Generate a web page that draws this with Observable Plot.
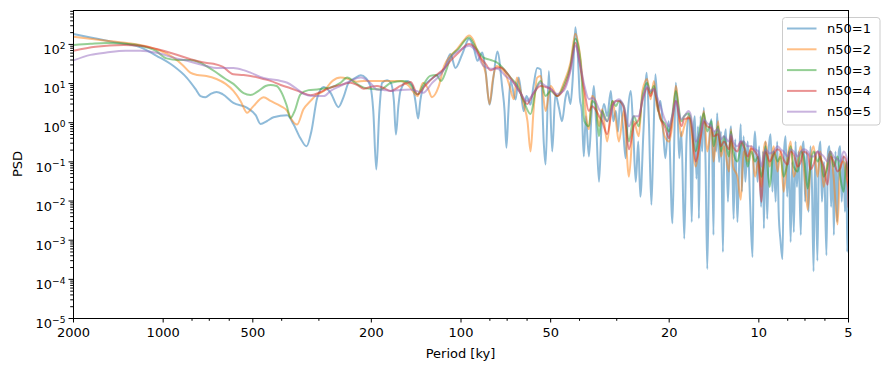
<!DOCTYPE html>
<html><head><meta charset="utf-8">
<script src="https://cdn.jsdelivr.net/npm/d3@7"></script>
<script src="https://cdn.jsdelivr.net/npm/@observablehq/plot@0.6"></script>
<style>html,body{margin:0;padding:0;background:#fff;overflow:hidden;} #chart svg{display:block;max-width:none;}</style>
</head><body><div id="chart"></div>
<script>
const labels = ["n50=1","n50=2","n50=3","n50=4","n50=5"];
const colors = ["#1f77b4","#ff7f0e","#2ca02c","#d62728","#9467bd"];
const majorX = [2000,1000,500,200,100,50,20,10,5];
const minorX = [800,700,600,400,300,80,70,60,40,30,8,7,6];
const majorY = [1e-5,1e-4,1e-3,1e-2,1e-1,1,10,100];

// [period ky, PSD]
const n50_1 = [[2000,185],[1753,151],[1502,119],[1191,84],[1052,51],[923,28],[834,14.2],[779,7.3],[749,4.8],[721,4.5],[694,5.4],[662,6.1],[632,5.4],[581,3.2],[522,2.4],[489,1.56],[471,0.93],[449,1.09],[426,1.38],[383,1.56],[365,0.91],[346,0.40],[330,0.25],[318,0.60],[304,4.3],[289,8.2],[274,5.8],[258,2.5],[248,4.5],[238.5,10.5],[226.5,13.9],[217,16.3],[209,13.9],[201.5,8.7],[197,1.98],[192.5,0.064],[188,1.98],[184,10.5],[177,12.2],[172,10.5],
[168,3.6],[165.4,0.50],[162.3,2.65],[159.7,6.5],[151.7,11.7],[145.4,8.7],[142.3,3.6],[139.3,1.28],[137,3.6],[134,7.9],[124,14.2],[114,23],[108.5,57],[104.4,25],[99,57],[94,138],[90.7,84],[88,38],[84.8,62],[82.7,21],[80.2,2.9],[77.7,15.7],[75.5,66],[72.7,7.9],[71.4,1.98],[70.4,0.23],[69.3,1.98],[68.2,11.7],[65.6,3.9],[64,14.2],[61.6,1.98],[60.3,4.8],[58.4,2.9],[57.1,8.7],[55.5,25],[54.0,23],
[52.7,0.28],[52.0,0.086],[50.7,21],[49.4,0.185],[48.2,5.3],[46.9,2.4],[45.8,1.09],[44.6,4.3],[43.9,6.5],[42.9,3.0],[42.2,11.7],[41.3,274],[40.6,69],[39.9,4.3],[39.3,1.98],[38.7,0.138],[38.1,1.47],[37.2,0.138],[36.4,1.98],[35.8,8.7],[35.2,1.09],[34.4,0.031],[33.7,1.09],[33.1,3.0],[32.3,1.47],[31.4,6.5],[30.8,1.09],[30.2,1.98],[29.7,0.60],[29.2,3.6],[28.6,0.81],[28.0,0.124],[27.5,1.98],[26.9,6.5],[26.4,0.60],[25.9,0.031],[25.4,0.33],[25.0,0.0129],[24.4,0.60],[23.8,19],[23.4,1.09],[22.95,0.0080],[22.6,0.33],[22.25,17.3],[21.8,1.98],[21.4,3.6],[21.0,0.81],[20.6,0.124],[20.1,1.09],[19.5,0.0027],[19.2,0.60],[19.0,10.5],[18.7,1.09],[18.5,0.124],[18.2,0.60],[17.8,0.00109],[17.5,0.33],[17.2,1.65],
[17.0,0.33],[16.8,0.0029],[16.6,0.60],[16.4,1.47],[16.2,0.037],[16.0,0.81],[15.9,0.0036],[15.7,1.47],[15.5,0.185],[15.3,2.4],[15.1,0.10],[14.9,0.000185],[14.6,0.81],[14.4,1.23],[14.2,0.00136],[14.1,0.60],[13.9,0.185],[13.8,1.75],[13.6,0.10],[13.4,0.60],[13.2,0.0005],[13.05,0.33],[12.9,0.68],[12.7,0.0096],[12.5,0.45],[12.4,0.81],[12.25,0.042],[12.15,0.0035],[12.0,0.38],[11.8,0.0029],[11.6,0.25],[11.5,0.91],[11.4,0.0173],[11.25,0.45],[11.1,0.031],[10.9,0.33],[10.7,0.0096],[10.5,0.00037],[10.4,0.185],[10.3,0.60],[10.1,0.031],[9.98,0.25],[9.83,0.0071],[9.68,0.185],[9.62,0.0020],[9.5,0.33],[9.37,0.0035],[9.25,0.25],[9.13,0.51],[9.0,0.0173],[8.92,0.185],[8.78,0.0096],[8.68,0.33],[8.58,0.0053],[8.45,0.0009],[8.33,0.00033],[8.23,0.185],[8.13,0.45],[8.03,0.0129],[7.94,0.185],[7.82,0.0009],[7.73,0.10],[7.63,0.0016],[7.53,0.33],[7.45,0.023],[7.36,0.185],[7.23,0.00136],[7.15,0.21],[7.07,0.33],[6.99,0.0096],[6.91,0.185],[6.81,0.0053],[6.71,0.25],[6.63,0.023],[6.55,0.00016],[6.47,0.185],[6.36,0.0003],[6.28,0.185],[6.21,0.33],[6.14,0.0096],[6.04,0.10],[5.93,0.00041],[5.86,0.185],[5.79,0.25],[5.72,0.0071],[5.65,0.138],[5.6,0.00136],[5.53,0.185],[5.46,0.0029],[5.39,0.185],[5.33,0.25],[5.27,0.0096],[5.19,0.138],[5.14,0.0053],[5.08,0.10],[5.05,0.0005],[5.0,0.031]];

const n50_2_low = [[2000,158],[1550,124],[1194,97],[1020,69],[923,46],[861,30],[811,19],[767,16.6],[716,15.7],[662,13.1],[617,9.8],[581,6.5],[550,3.6],[522,1.79],[501,2.5],[460,4.5],[436,3.6],[403,2.65],[383,1.98],[371,1.23],[355,0.90],[338,2.2],[320,3.6],[306,5.1],[289,6.5],[270,11.7],[254,14.2],[238.5,13.1],[224,11.2],[212,11.7],[201.5,11.7],[186,11.7],[172,11.7],
[159.7,11.7],[149.6,8.7],[140,4.8],[134,10.5],[128.9,7.3],[125.2,4.5],[119,8.2],[114,28],[108.5,51],[103.1,76],[98,124],[94,168],[90.7,124],[88.2,69],[85.3,38],[82.7,18.7],[80.2,3.0],[78.3,11.7],[76.0,28],[73.6,25.6],[70.9,17.7],[68.7,8.7],[66.5,4.0],[64.9,14.2],[63.1,6.5],[61.6,3.0],[59.8,1.09],[58.4,0.185],[57.1,1.98],[55.5,14.2]];
const n50_3_low = [[2000,97],[1753,104],[1550,109],[1338,104],[1194,93],[1060,69],[974,44],[888,40],[811,40],[749,34],[716,28],[668,20],[617,13.1],[581,9.8],[537,5.7],[509,5.1],[478,6.5],[453,8.7],[436,9.2],[416,8.7],[403,6.5],[385,2.8],[373.5,1.33],[362,1.98],[346,5.3],[325,6.8],[304,7.1],[274,7.9],[254,10.4],[241,14.2],[226.5,10.4],[212,7.9],[198.5,7.3],[186,7.1],[172,10.5],
[156,11.7],[147.4,9.2],[140,5.3],[134,9.2],[126.9,15.7],[121,16.6],[116.7,11.7],[112.3,21],[108.5,46],[102,77],[94,151],[88.6,77],[84,46],[79.5,40],[75.5,34],[72,24],[68.2,14.2],[64.6,8.7],[61.6,3.6],[58.4,1.66],[56.2,6.5]];
const n50_4_low = [[2000,69],[1687,87],[1359,97],[1191,93],[1052,76],[923,58],[809,42],[721,34],[678,32],[632,27],[581,17.3],[537,16.6],[509,15.7],[460,13.1],[436,11.7],[403,9.2],[373.5,7.6],[346,6.1],[320,5.0],[296,6.1],[274,7.9],[254,9.2],[235,10.5],[223,9.2],[212,7.4],[201.5,8.2],[191.5,8.7],[182,7.7],[172,6.5],
[159.7,8.7],[147.4,11],[140,5.3],[132,8.7],[124,14.2],[114,24],[108.5,38],[102,61],[94,102],[89.3,77],[86,46],[82.7,32],[79.5,22],[76.5,25],[73.6,25.6],[69.8,17.7],[66.5,10.5],[63.1,5.7],[60.0,3.0],[57.1,5.7]];
const n50_5_low = [[2000,39],[1753,54],[1550,62],[1338,69],[1194,69],[1052,61],[923,46],[809,36],[716,28],[662,25],[617,25],[581,25],[537,22],[509,19],[460,13.9],[436,12.9],[403,11.7],[383,10.5],[359,7.7],[338,5.5],[313,4.8],[289,4.8],[274,6.5],[254,8.7],[235,11.7],[217,14.2],[201.5,10.4],[191.5,7.1],[182,6.9],[172,6.5],
[159.7,6.9],[147.4,7.1],[134,5.8],[125,10.4],[116.7,17.3],[108.5,46],[100.3,73],[94,93],[89.3,69],[84,28],[79.5,24],[75.5,24],[70.9,15.7],[66.5,10.5],[63.1,5.7],[60.0,3.6],[57.1,5.7]];

// shared short-period grid (ky) for the smoothed spectra
const gridPeriods = [54.0,52.0,50.0,47.5,45.2,42.9,41.3,39.7,38.5,37.2,36.3,35.35,34.4,33.6,32.3,31.0,30.2,29.5,28.4,27.3,26.3,25.3,24.6,23.7,23.1,22.5,22.0,21.4,20.7,20.0,19.55,19.0,18.2,17.8,17.2,17.0,16.3,15.7,15.3,14.9,14.4,14.2,13.7,13.4,13.1,12.6,12.4,12.2,11.8,11.5,11.25,10.9,10.6,10.3,10.05,9.8,9.64,9.5,9.2,8.92,8.65,8.45,8.26,8.0,7.82,7.64,7.4,7.23,7.07,6.85,6.71,6.55,6.35,6.21,6.06,5.88,5.75,5.61,5.44,5.33,5.19,5.08,5.0];
const n50_2_high = [15.7,1.98,8.7,4.8,10.4,34,188,43,3.6,0.68, 4.8,3.6,0.81,2.2,0.33,3.6,1.09,0.33,1.98,0.042, 1.09,0.45,6.5,13.1,4.0,11.7,2.65,1.47,0.45,0.33, 0.81,8.7,0.45,0.81,1.47,1.09,0.076,0.45,1.98,0.185, 0.81,0.102,1.09,0.138,0.25,0.057,0.68,0.076,0.042,0.0108, 0.185,0.102,0.25,0.042,0.102,0.023,0.185,0.33,0.076,0.25, 0.057,0.185,0.0173,0.138,0.33,0.042,0.102,0.25,0.076,0.0060, 0.102,0.25,0.042,0.185,0.023,0.102,0.185,0.042,0.0025,0.076, 0.102,0.042,0.023];
const n50_3_high = [11.7,4.8,6.5,4.8,8.7,28,140,38,1.09,0.81, 3.6,3.0,0.45,1.98,1.09,3.6,2.65,3.6,2.65,0.33, 1.47,0.81,4.8,10.4,5.7,8.7,3.6,1.23,0.97,0.60, 1.47,6.5,1.09,1.47,1.75,1.47,0.185,0.81,1.75,0.60, 1.09,0.25,0.81,0.185,0.45,0.138,0.60,0.185,0.102,0.25, 0.33,0.076,0.185,0.102,0.138,0.042,0.076,0.25,0.023,0.185, 0.102,0.138,0.042,0.102,0.25,0.076,0.057,0.185,0.138,0.021, 0.076,0.185,0.102,0.138,0.042,0.076,0.185,0.076,0.138,0.042, 0.0173,0.102,0.042];
const n50_4_high = [8.7,8.2,7.3,4.8,7.3,24,111,25,6.5,1.98, 2.65,2.2,1.47,1.09,0.51,2.65,3.6,3.6,2.36,0.21, 0.81,1.23,3.6,7.7,4.8,7.3,3.6,1.31,0.81,0.40, 1.23,3.6,0.81,1.23,1.31,1.31,0.102,0.40,1.09,0.81, 0.72,0.45,0.51,0.25,0.33,0.21,0.45,0.25,0.185,0.33, 0.25,0.138,0.22,0.185,0.122,0.0096,0.102,0.185,0.102,0.155, 0.21,0.185,0.115,0.086,0.185,0.155,0.076,0.102,0.185,0.155, 0.064,0.086,0.185,0.122,0.076,0.026,0.138,0.102,0.057,0.068, 0.138,0.102,0.0071];
const n50_5_high = [10.4,8.7,7.3,5.4,6.5,21,93,28,8.7,4.0, 4.3,3.6,2.2,1.75,1.09,2.65,3.6,4.0,2.65,0.81, 1.47,1.47,4.0,8.7,6.5,7.3,4.8,2.65,1.23,0.81, 1.47,3.6,1.23,1.47,1.98,1.75,0.33,0.60,1.23,0.97, 0.81,0.60,0.68,0.38,0.45,0.33,0.51,0.33,0.25,0.33, 0.33,0.25,0.25,0.21,0.185,0.076,0.138,0.21,0.164,0.185, 0.25,0.21,0.185,0.138,0.21,0.185,0.138,0.185,0.21,0.185, 0.138,0.138,0.185,0.164,0.138,0.102,0.185,0.138,0.115,0.102, 0.185,0.138,0.076];

const joinHigh = (low, high) => low.concat(gridPeriods.map((p, i) => [p, high[i]]));
const seriesPts = [
  n50_1,
  joinHigh(n50_2_low, n50_2_high),
  joinHigh(n50_3_low, n50_3_high),
  joinHigh(n50_4_low, n50_4_high),
  joinHigh(n50_5_low, n50_5_high)
];
const rows = seriesPts.map((pts, k) => pts.map(([p, v]) => ({series: labels[k], period: p, psd: v})));

const minorY = [];
for (const e of [-5,-4,-3,-2,-1,0,1,2]) for (const m of [2,3,4,5,6,7,8,9]) { const v = m * Math.pow(10, e); if (v < 735) minorY.push(v); }

const chart = Plot.plot({
  width: 889, height: 371,
  marginLeft: 73, marginRight: 41, marginTop: 10, marginBottom: 53,
  style: {fontFamily: "'DejaVu Sans', sans-serif", fontSize: "13px", color: "black", background: "white", overflow: "visible"},
  x: {type: "log", domain: [2000, 5], label: null},
  y: {type: "log", domain: [1e-5, 735], label: null},
  marks: [
    ...rows.map((r, k) => Plot.line(r, {x: "period", y: "psd", stroke: colors[k], strokeWidth: 2, strokeOpacity: 0.5, curve: "monotone-x", clip: true})),
    Plot.axisX(minorX, {tickSize: 2.8, tickFormat: () => "", label: null}),
    Plot.axisX(majorX, {tickSize: 4.5, tickFormat: () => "", label: null}),
    Plot.text(majorX, {x: d => d, text: d => String(d), frameAnchor: "bottom", lineAnchor: "top", dy: 9, fontSize: 13, fill: "black"}),
    Plot.axisY(minorY, {tickSize: 2.8, tickFormat: () => "", label: null}),
    Plot.axisY(majorY, {tickSize: 4.5, tickPadding: 3.5, tickFormat: d => "10|" + Math.round(Math.log10(d)), label: null}),
    Plot.frame({stroke: "black", strokeWidth: 1})
  ]
});
document.getElementById("chart").appendChild(chart);

const svg = d3.select(chart);
svg.selectAll("text").each(function() {
  const t = this.textContent;
  if (!t.startsWith("10|")) return;
  const e = t.split("|")[1].replace("-", "\u2212");
  this.textContent = "";
  this.setAttribute("dy", "0.42em");
  d3.select(this).append("tspan").text("10");
  d3.select(this).append("tspan").attr("font-size", "70%").attr("dy", "-0.6em").text(e);
});

svg.append("text").attr("transform", "translate(17,164) rotate(-90)")
  .attr("text-anchor", "middle").attr("dominant-baseline", "central")
  .attr("font-size", 13).attr("fill", "black").text("PSD");
svg.append("text").attr("x", 460.5).attr("y", 353)
  .attr("text-anchor", "middle").attr("dominant-baseline", "central")
  .attr("font-size", 13).attr("fill", "black").text("Period [ky]");

const lg = svg.append("g").attr("text-anchor", "start");
lg.append("rect").attr("x", 782.5).attr("y", 17.5).attr("width", 97.5).attr("height", 107.5).attr("rx", 3)
  .attr("fill", "white").attr("fill-opacity", 0.8).attr("stroke", "#cccccc").attr("stroke-width", 1);
labels.forEach((l, i) => {
  const y = 28.5 + i * 20.8;
  lg.append("line").attr("x1", 787).attr("x2", 816.5).attr("y1", y).attr("y2", y)
    .attr("stroke", colors[i]).attr("stroke-opacity", 0.5).attr("stroke-width", 2);
  lg.append("text").attr("x", 827).attr("y", y).attr("text-anchor", "start").attr("dominant-baseline", "central")
    .attr("font-size", 13).attr("fill", "black").text(l);
});
svg.select('[aria-label="frame"]').raise();
</script>
</body></html>
